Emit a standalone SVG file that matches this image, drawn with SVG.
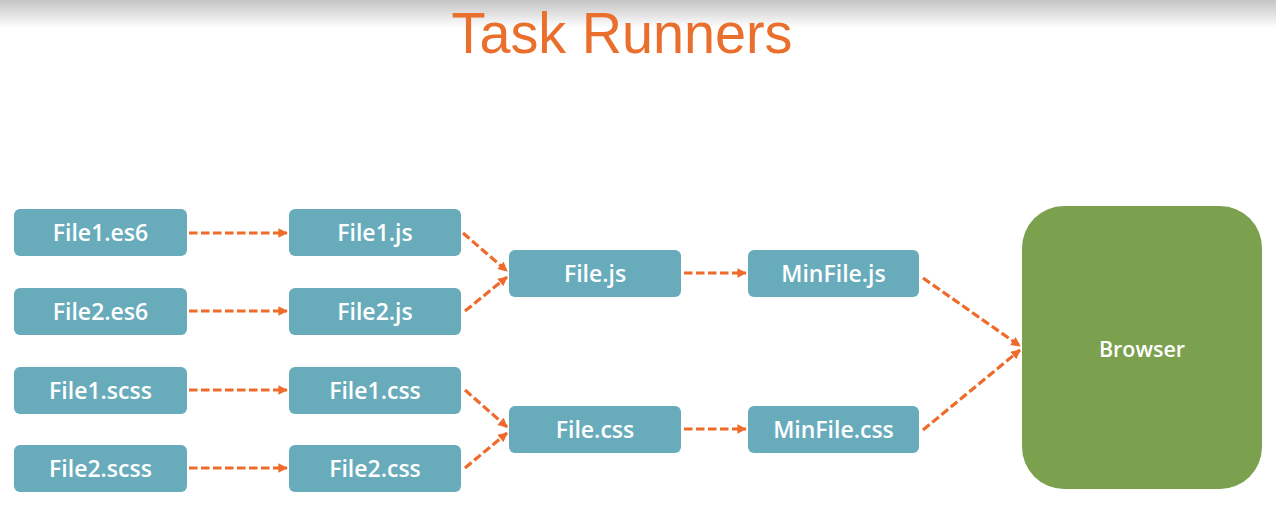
<svg xmlns="http://www.w3.org/2000/svg" width="1276" height="505" viewBox="0 0 1276 505">
  <defs>
    <linearGradient id="topShade" x1="0" y1="0" x2="0" y2="1">
      <stop offset="0" stop-color="#c4c4c4"/>
      <stop offset="1" stop-color="#ffffff"/>
    </linearGradient>
    <marker id="arrow" viewBox="0 0 10 10" refX="9" refY="5" markerWidth="3.2" markerHeight="3" orient="auto" markerUnits="strokeWidth">
      <path d="M0,0 L10,5 L0,10 z" fill="#ee6b2c"/>
    </marker>
  </defs>
  <style>
    .box { fill: #68acbc; }
    .lbl { fill: #ffffff; font-family: "Open Sans", "Noto Sans", sans-serif; font-weight: 600; font-size: 23px; text-anchor: middle; }
    .conn { fill: none; stroke: #ee6b2c; stroke-width: 3.2; stroke-dasharray: 8.5 3.5; marker-end: url(#arrow); }
  </style>
  <rect x="0" y="0" width="1276" height="505" fill="#ffffff"/>
  <rect x="0" y="0" width="1276" height="28" fill="url(#topShade)"/>
  <text x="622" y="52.5" font-family="Liberation Sans, Arial, sans-serif" font-size="57" fill="#ea6f2c" text-anchor="middle" textLength="341" lengthAdjust="spacingAndGlyphs">Task Runners</text>

  <g id="connectors">
    <line class="conn" x1="189" y1="233" x2="287" y2="233"/>
    <line class="conn" x1="189" y1="311" x2="287" y2="311"/>
    <line class="conn" x1="189" y1="390" x2="287" y2="390"/>
    <line class="conn" x1="189" y1="468" x2="287" y2="468"/>
    <line class="conn" x1="463" y1="233" x2="507" y2="271"/>
    <line class="conn" x1="465" y1="311" x2="507" y2="277"/>
    <line class="conn" x1="465" y1="390" x2="507" y2="427"/>
    <line class="conn" x1="465" y1="468" x2="507" y2="433"/>
    <line class="conn" x1="684" y1="273" x2="746" y2="273"/>
    <line class="conn" x1="684" y1="429" x2="746" y2="429"/>
    <line class="conn" x1="923" y1="278" x2="1020" y2="346"/>
    <line class="conn" x1="923" y1="430" x2="1020" y2="350"/>
  </g>

  <g id="file1-es6"><rect class="box" x="14" y="209" width="173" height="47" rx="6"/><text class="lbl" x="100.5" y="241">File1.es6</text></g>
  <g id="file2-es6"><rect class="box" x="14" y="288" width="173" height="47" rx="6"/><text class="lbl" x="100.5" y="320">File2.es6</text></g>
  <g id="file1-scss"><rect class="box" x="14" y="367" width="173" height="47" rx="6"/><text class="lbl" x="100.5" y="399">File1.scss</text></g>
  <g id="file2-scss"><rect class="box" x="14" y="445" width="173" height="47" rx="6"/><text class="lbl" x="100.5" y="477">File2.scss</text></g>

  <g id="file1-js"><rect class="box" x="289" y="209" width="172" height="47" rx="6"/><text class="lbl" x="375" y="241">File1.js</text></g>
  <g id="file2-js"><rect class="box" x="289" y="288" width="172" height="47" rx="6"/><text class="lbl" x="375" y="320">File2.js</text></g>
  <g id="file1-css"><rect class="box" x="289" y="367" width="172" height="47" rx="6"/><text class="lbl" x="375" y="399">File1.css</text></g>
  <g id="file2-css"><rect class="box" x="289" y="445" width="172" height="47" rx="6"/><text class="lbl" x="375" y="477">File2.css</text></g>

  <g id="file-js"><rect class="box" x="509" y="250" width="172" height="47" rx="6"/><text class="lbl" x="595" y="282">File.js</text></g>
  <g id="file-css"><rect class="box" x="509" y="406" width="172" height="47" rx="6"/><text class="lbl" x="595" y="438">File.css</text></g>

  <g id="minfile-js"><rect class="box" x="748" y="250" width="171" height="47" rx="6"/><text class="lbl" x="833.5" y="282">MinFile.js</text></g>
  <g id="minfile-css"><rect class="box" x="748" y="406" width="171" height="47" rx="6"/><text class="lbl" x="833.5" y="438">MinFile.css</text></g>

  <g id="browser"><rect x="1022" y="206" width="240" height="283" rx="42" fill="#7ba04e"/><text class="lbl" x="1142" y="357" style="font-size:21.5px">Browser</text></g>
</svg>
